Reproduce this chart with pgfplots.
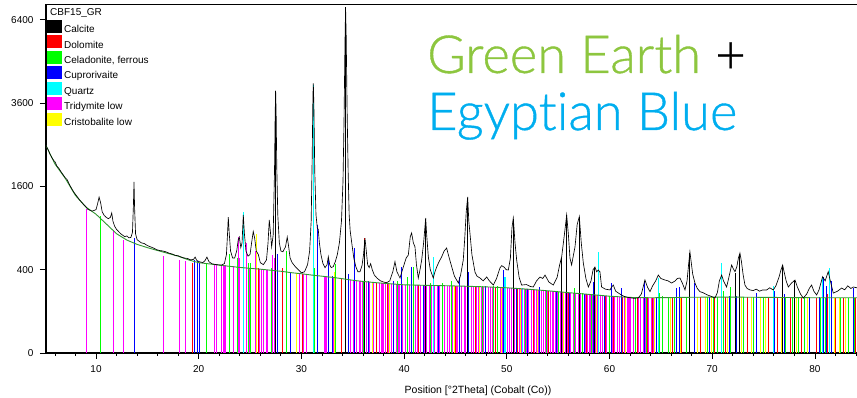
\documentclass[border=0pt]{standalone}
\usepackage{pgfplots}
\pgfplotsset{compat=1.18}
\usepackage{fontspec}
\setmainfont{Liberation Sans}
\newfontfamily\lato[Ligatures=NoCommon, FakeBold=0.7]{Lato Light}
\definecolor{gtext}{RGB}{141,198,63}
\definecolor{btext}{RGB}{0,174,239}
\definecolor{bgline}{RGB}{50,150,50}
\definecolor{cMag}{RGB}{255,0,255}
\definecolor{cGrn}{RGB}{0,255,0}
\definecolor{cBlu}{RGB}{0,0,255}
\definecolor{cCya}{RGB}{0,255,255}
\definecolor{cRed}{RGB}{255,0,0}
\definecolor{cYel}{RGB}{255,255,0}
\begin{document}
\begin{tikzpicture}
\begin{axis}[
  scale only axis, width=811pt, height=348.5pt,
  xmin=5.13, xmax=84.1, ymin=0, ymax=7000,
  y coord trafo/.code={\pgfmathparse{sqrt(#1)}},
  y coord inv trafo/.code={\pgfmathparse{(#1)^2}},
  ytick={0,400,1600,3600,6400},
  yticklabels={0,400,1600,3600,6400},
  xtick={10,20,...,80},
  minor xtick={6,8,...,84},
  axis x line*=bottom, axis y line*=left,
  axis line style={-, line width=1.3pt},
  tick style={black, line width=0.8pt},
  tick align=outside,
  major tick length=6pt, minor tick length=3pt,
  /pgf/number format/assume math mode=true,
  ticklabel style={font=\fontsize{10}{12}\selectfont},
  xticklabel style={yshift=-3pt},
  yticklabel style={xshift=-3pt},
  xlabel={Position [°2Theta] (Cobalt (Co))},
  xlabel style={at={(rel axis cs:0.5327,0)}, anchor=base, yshift=-41pt, font=\fontsize{10.5}{12}\selectfont},
  legend image code/.code={\fill[#1] (0pt,-2.5pt) rectangle (13.5pt,9.5pt); \path[draw=none,fill=none] (0pt,0pt) -- (16.5pt,0pt);},
  legend cell align=left,
  legend style={at={(rel axis cs:0,1)}, anchor=north west, xshift=1.5pt, yshift=-15.5pt,
    draw=none, fill=none, inner sep=0pt, outer sep=0pt, row sep=1.4pt,
    font=\fontsize{10}{12}\selectfont, nodes={inner sep=0pt}},
]
% legend entries
\addlegendimage{black}\addlegendentry{Calcite}
\addlegendimage{cRed}\addlegendentry{Dolomite}
\addlegendimage{cGrn}\addlegendentry{Celadonite, ferrous}
\addlegendimage{cBlu}\addlegendentry{Cuprorivaite}
\addlegendimage{cCya}\addlegendentry{Quartz}
\addlegendimage{cMag}\addlegendentry{Tridymite low}
\addlegendimage{cYel}\addlegendentry{Cristobalite low}

% Tridymite low
\addplot[ycomb, cMag, line width=1.1pt, forget plot] coordinates {
(9.09,1200) (11.69,870) (12.72,740) (16.55,540) (18.11,500) (18.73,490) (21.58,455) (21.74,452) (22.23,447) (22.46,445) (22.65,443) (23.37,432) (23.85,770) (24.01,520) (24.66,700) (24.99,415) (25.5,600) (25.96,406) (26.15,404) (26.3,403) (26.56,401) (26.72,400) (27.05,395) (27.2,553) (27.36,520) (29.52,367) (29.85,364) (30.17,361) (30.5,358) (32.3,342) (32.45,333) (32.6,339) (33.16,329) (34.8,307)
(35.05,305) (35.4,302) (35.7,300) (36.0,298) (36.35,293) (36.65,290) (37.0,287) (37.3,285) (37.6,283) (37.85,281)
(38.0,280) (38.2,279) (38.5,277) (38.8,275) (39.0,274) (39.3,272) (39.5,271) (39.8,269) (40.1,268) (40.35,267) (40.55,267) (40.9,266) (41.15,266) (41.3,265) (41.6,265) (41.95,264) (42.2,264) (42.5,263) (42.7,263) (43.0,262) (43.25,262) (43.45,262) (43.7,261) (43.95,261) (44.25,260) (44.45,260) (44.7,259) (44.95,259) (45.15,259) (45.4,258) (45.6,258) (45.85,257) (46.0,257) (46.3,256) (46.55,256) (46.8,255) (47.05,254) (47.25,254) (47.5,253) (47.75,253) (47.95,252) (48.2,251) (48.45,250) (48.65,250) (48.9,249) (49.1,248) (49.35,247) (49.6,246) (49.85,245) (50.05,245) (50.3,243) (50.5,242) (50.75,241) (51.0,240) (51.2,239) (51.45,238) (51.7,236) (51.95,235) (52.15,234) (52.4,233) (52.65,231) (52.85,230) (53.1,228) (53.35,227) (53.55,226) (53.8,224) (54.0,223) (54.25,221) (54.5,220) (54.75,218) (54.95,217) (55.2,215) (55.45,214) (55.7,212) (55.95,210) (56.2,209) (56.45,207) (56.7,206) (56.95,204) (57.2,203) (57.4,202) (57.65,200) (57.9,199) (58.1,197) (58.35,196) (58.6,194) (58.85,193) (59.1,191) (59.3,190) (59.55,189) (59.75,187) (60.0,186) (60.25,185) (60.5,184) (60.75,183) (61.0,182) (61.25,181) (61.5,180) (61.8,179) (62.0,178) (62.3,178) (62.55,177) (62.8,177) (63.0,177) (63.3,177) (63.55,176) (63.8,176) (64.05,176) (64.3,176) (64.55,176) (64.8,176)
};
% Celadonite, ferrous
\addplot[ycomb, cGrn, line width=1pt, forget plot] coordinates {
(10.42,1080) (20.75,460) (22.95,560) (23.75,520) (24.85,470) (25.05,470) (25.65,560) (27.1,420) (28.5,600) (31.22,480) (31.3,420) (33.35,460) (36.0,300) (39.4,300) (40.3,330) (40.95,430) (42.6,280) (43.7,280) (44.6,300) (46.25,330) (47.6,260) (48.7,255) (49.1,255) (51.8,236) (53.9,222) (55.0,215) (56.6,240) (57.4,205) (58.2,197) (60.0,190) (62.5,178) (63.6,180) (64.9,205) (65.2,185) (65.7,180) (66.3,178) (67.5,179) (68.3,180) (69.5,180) (70.1,180) (70.5,180) (71.1,225) (71.8,250) (73.0,182) (74.0,180) (75.0,179) (76.0,180) (77.1,179) (77.8,178) (78.4,178) (79.0,177) (80.5,176) (81.0,176) (81.6,200) (82.5,176) (83.3,176) (83.9,176)
};
% Cuprorivaite
\addplot[ycomb, cBlu, line width=1pt, forget plot] coordinates {
(13.75,760) (19.55,500) (19.85,490) (20.05,470) (24.4,420) (27.63,560) (28.95,380) (31.58,950) (32.62,520) (33.05,340) (34.55,360) (35.2,640) (36.55,295) (39.0,300) (39.76,426) (40.73,426) (41.9,270) (43.3,262) (45.44,330) (46.25,380) (47.9,255) (49.65,397) (50.9,245) (52.0,235) (53.23,251) (54.8,220) (56.1,210) (57.6,200) (58.42,290) (59.5,190) (60.2,282) (61.18,240) (63.45,300) (64.6,177) (66.53,240) (66.86,250) (68.32,282) (69.78,180) (71.73,190) (72.38,190) (74.32,210) (75.95,229) (76.11,220) (77.08,200) (79.52,180) (80.49,182) (80.88,335) (81.14,260) (81.4,381) (81.63,300) (83.74,240)
};
% Dolomite
\addplot[ycomb, cRed, line width=1pt, forget plot] coordinates {
(19.41,470) (25.8,420) (28.17,416) (30.1,362) (33.9,320) (36.19,760) (37.3,286) (38.4,279) (41.4,266) (42.9,263) (45.0,260) (47.0,255) (48.9,250) (51.0,240) (52.6,233) (54.1,222) (56.0,210) (57.8,199) (59.6,190) (60.4,187) (61.3,182) (62.7,177) (63.7,177) (64.2,176) (66.1,178) (67.0,178) (68.9,180) (70.2,180) (71.3,180) (73.4,180) (75.5,178) (76.4,178) (77.6,178) (78.7,177) (80.2,176) (81.2,200) (82.0,176) (82.8,176) (84.0,176)
};
% Quartz
\addplot[ycomb, cCya, line width=1.2pt, forget plot] coordinates {
(24.34,1150) (31.16,4150) (42.84,531) (46.19,498) (49.82,330) (51.5,240) (58.91,588) (64.75,320) (70.92,467) (75.95,260) (80.75,335) (81.4,420)
};
% Cristobalite low
\addplot[ycomb, cYel, line width=1pt, forget plot] coordinates {
(25.64,820) (29.53,370) (33.2,380) (36.9,290) (38.6,280) (44.9,260) (47.3,254) (49.5,250) (51.3,240) (53.0,228) (55.5,212) (58.7,195) (61.6,180) (64.4,176) (65.9,178) (66.9,178) (68.6,179) (69.3,180) (69.9,180) (71.5,180) (72.9,180) (73.8,180) (74.7,179) (75.2,179) (76.7,178) (78.2,178) (79.3,177) (81.9,176) (82.4,176) (83.0,176)
};
% Calcite
\addplot[ycomb, black, line width=1pt, forget plot] coordinates {
(27.49,3950) (34.3,6850) (36.19,740) (42.1,1040) (46.19,1380) (50.63,1040) (55.34,520) (55.83,1090) (57.06,1060) (58.58,420) (67.83,580) (72.7,570) (78.06,300) (76.86,440) (72.22,370)
};
% background
\addplot[bgline, line width=0.9pt, forget plot] coordinates {
(5.13,2480) (6,2060) (7,1760) (8,1430) (9,1230) (10,1110) (11,960) (12,820) (13,735) (14,680) (15,640) (16,605) (17,572) (18,540) (19,500) (20,470) (21,458) (22,445) (23,433) (24,422) (25,413) (26,405) (27,395) (28,385) (29,372) (30,362) (31,350) (32,340) (33,330) (34,318) (35,305) (36,295) (37,287) (38,280) (39,274) (40,268) (42,264) (44,261) (46,257) (48,252) (50,245) (52,235) (54,223) (56,210) (58,198) (60,186) (62,178) (64,176) (66,177) (68,179) (70,180) (72,180) (74,179) (76,178) (78,177) (80,176) (82,176) (84.1,176)
};
% observed pattern
\addplot[black, line width=0.65pt, forget plot] coordinates {
(5.13,2480) (5.3,2400) (5.5,2290) (5.7,2200) (5.9,2130) (6.0,2110) (6.2,2010) (6.4,1960) (6.6,1890) (6.8,1830) (7.0,1770) (7.2,1730) (7.4,1640) (7.6,1570) (7.8,1500) (8.0,1450) (8.2,1400) (8.4,1350) (8.6,1310) (8.8,1270) (9.0,1235) (9.2,1190) (9.4,1175) (9.6,1160) (9.8,1170) (10.0,1185) (10.15,1280) (10.3,1400) (10.45,1300) (10.6,1150) (10.8,1090) (11.0,1060) (11.2,1040) (11.4,1060) (11.53,1130) (11.65,1000) (11.8,930) (12.0,880) (12.2,850) (12.4,820) (12.6,800) (12.8,780) (13.0,790) (13.2,765) (13.4,770) (13.55,840) (13.64,1250) (13.70,1690) (13.76,1200) (13.85,820) (14.0,740) (14.2,720) (14.4,700) (14.7,690) (15.0,665) (15.3,650) (15.6,635) (15.9,615) (16.2,605) (16.5,600) (16.8,590) (17.1,575) (17.4,565) (17.7,550) (18.0,545) (18.3,530) (18.6,520) (18.9,515) (19.2,500) (19.5,505) (19.65,530) (19.8,495) (20.1,478) (20.4,472) (20.6,490) (20.8,530) (21.0,480) (21.3,458) (21.6,452) (21.9,448) (22.2,445) (22.5,460) (22.7,560) (22.8,800) (22.88,1065) (22.96,850) (23.1,600) (23.3,520) (23.5,520) (23.7,600) (23.85,740) (23.95,775) (24.1,640) (24.22,700) (24.34,1100) (24.45,820) (24.6,600) (24.8,540) (25.0,560) (25.15,700) (25.31,850) (25.45,760) (25.6,600) (25.8,560) (26.0,470) (26.3,450) (26.6,500) (26.75,700) (26.87,1020) (26.98,850) (27.1,650) (27.25,800) (27.38,1900) (27.44,3200) (27.49,3970) (27.54,3300) (27.6,2000) (27.7,1100) (27.85,700) (28.0,600) (28.2,590) (28.45,650) (28.62,775) (28.75,660) (28.9,520) (29.1,470) (29.4,430) (29.7,400) (30.0,370) (30.3,380) (30.6,450) (30.8,600) (30.95,1000) (31.05,2200) (31.12,3800) (31.16,4190) (31.21,3600) (31.3,1900) (31.42,1100) (31.55,900) (31.64,880) (31.75,700) (31.9,560) (32.1,460) (32.3,420) (32.5,450) (32.62,535) (32.75,450) (32.9,420) (33.1,430) (33.3,480) (33.5,560) (33.7,700) (33.9,1000) (34.05,1700) (34.15,3100) (34.24,5500) (34.3,6890) (34.36,5800) (34.45,3400) (34.55,1900) (34.65,1100) (34.75,860) (34.9,700) (35.1,520) (35.3,430) (35.5,380) (35.7,380) (35.9,440) (36.05,560) (36.19,760) (36.3,620) (36.45,450) (36.6,420) (36.74,460) (36.9,400) (37.1,350) (37.4,320) (37.7,300) (38.0,290) (38.3,285) (38.6,300) (38.9,380) (39.11,480) (39.3,380) (39.6,324) (39.92,426) (40.2,520) (40.41,553) (40.6,780) (40.73,830) (40.9,700) (41.06,648) (41.2,450) (41.38,324) (41.55,400) (41.71,498) (41.9,700) (42.1,1050) (42.2,800) (42.36,531) (42.55,400) (42.84,324) (43.0,380) (43.17,426) (43.4,480) (43.65,531) (43.9,600) (44.14,635) (44.3,560) (44.53,467) (44.9,340) (45.28,282) (45.5,350) (45.76,498) (45.9,750) (46.05,1150) (46.19,1404) (46.3,1000) (46.41,830) (46.6,560) (46.9,378) (47.1,340) (47.39,324) (47.7,300) (48.04,333) (48.3,300) (48.69,266) (49.0,320) (49.33,416) (49.5,440) (49.72,426) (49.95,400) (50.15,397) (50.35,520) (50.5,900) (50.63,1050) (50.8,700) (50.96,498) (51.2,330) (51.44,266) (51.9,270) (52.3,255) (52.58,251) (52.9,300) (53.23,333) (53.5,320) (53.72,350) (54.1,290) (54.53,266) (54.9,330) (55.15,450) (55.34,531) (55.6,800) (55.83,1098) (56.0,800) (56.15,520) (56.31,446) (56.5,560) (56.64,648) (56.85,950) (57.06,1072) (57.25,700) (57.45,467) (57.7,320) (57.94,251) (58.2,300) (58.4,400) (58.58,426) (58.75,380) (58.91,397) (59.07,380) (59.23,251) (59.6,235) (60.05,229) (60.2,250) (60.37,266) (60.6,220) (61.02,200) (61.4,185) (61.7,180) (62.0,176) (62.4,172) (62.8,175) (63.1,200) (63.45,307) (63.7,250) (63.94,217) (64.2,260) (64.5,300) (64.75,350) (65.0,320) (65.4,307) (65.7,300) (66.05,282) (66.4,300) (66.6,320) (66.86,324) (67.1,280) (67.35,229) (67.55,300) (67.7,450) (67.83,591) (67.95,480) (68.1,360) (68.32,282) (68.55,240) (68.8,217) (69.1,210) (69.5,195) (69.9,185) (70.27,174) (70.5,210) (70.7,300) (70.92,350) (71.1,300) (71.4,251) (71.6,320) (71.89,446) (72.05,410) (72.22,381) (72.4,430) (72.55,520) (72.7,576) (72.85,480) (73.0,360) (73.19,266) (73.4,240) (73.68,229) (74.0,225) (74.3,235) (74.6,220) (74.9,229) (75.3,229) (75.6,245) (75.95,229) (76.2,260) (76.5,330) (76.7,400) (76.86,446) (77.0,380) (77.2,300) (77.41,251) (77.7,280) (78.06,307) (78.3,250) (78.6,200) (78.87,174) (79.2,200) (79.45,240) (79.68,266) (79.9,220) (80.17,194) (80.4,230) (80.75,335) (81.0,300) (81.3,381) (81.5,300) (81.79,207) (82.2,220) (82.6,243) (82.9,230) (83.2,260) (83.5,240) (83.74,251) (84.1,245)
};
\draw[line width=1.3pt] (rel axis cs:0,1) -- (rel axis cs:1,1);
\node[anchor=base west, inner sep=0pt, xshift=4pt, yshift=337pt, font=\fontsize{10}{12}\selectfont] at (rel axis cs:0,0) {CBF15\_GR};
\node[anchor=base west, inner sep=0pt, xshift=381pt, yshift=280pt, font=\lato\fontsize{52.5}{60}\selectfont] at (rel axis cs:0,0) {\textcolor{gtext}{Green Earth} +};
\node[anchor=base west, inner sep=0pt, xshift=381pt, yshift=223pt, font=\lato\fontsize{52.5}{60}\selectfont] at (rel axis cs:0,0) {\textcolor{btext}{Egyptian Blue}};
\end{axis}
\pgfresetboundingbox
\path[use as bounding box] (-46pt,-45pt) rectangle (811pt,353pt);
\end{tikzpicture}
\end{document}
